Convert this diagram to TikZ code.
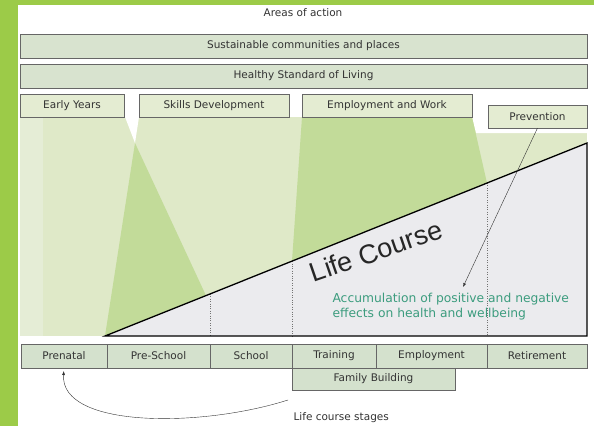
\documentclass[tikz,border=0pt]{standalone}
\usepackage{fontspec}
\setmainfont{DejaVu Sans}
\newfontfamily\lifefont{Liberation Sans}
\usetikzlibrary{positioning}
\usetikzlibrary{arrows.meta}
\definecolor{backgreen}{HTML}{9CCB48}
\definecolor{bandfill}{HTML}{D8E3CF}
\definecolor{areafill}{HTML}{E4ECD2}
\definecolor{stagefill}{HTML}{D4E1CD}
\definecolor{lightgreen}{HTML}{DFE9C8}
\definecolor{palegreen}{HTML}{E5EDD6}
\definecolor{darkgreen}{HTML}{C2DB99}
\definecolor{coursegrey}{HTML}{EBEBEE}
\definecolor{accutext}{HTML}{3C9C7E}
\tikzstyle{band}=[
  draw=black!60,
  fill=bandfill,
  minimum height=24pt,
  inner sep=0pt,
  outer sep=0pt,
  text=black!80,
  font=\fontsize{10.5}{12}\selectfont
]
\tikzstyle{areabox}=[band, fill=areafill, minimum height=23pt]
\tikzstyle{stagebox}=[band, fill=stagefill]
\tikzstyle{label}=[text=black!80, font=\fontsize{10.5}{12}\selectfont]

\begin{document}
\begin{tikzpicture}[x=1pt,y=-1pt,node distance=0pt]
    \useasboundingbox (0,0) rectangle (594,426);
    % background
    \fill[backgreen] (0,0) rectangle (594,426);
    \fill[white] (18,5) rectangle (594,426);
    % areas of action above the life course
    \fill[lightgreen] (20,117) rectangle (587,336);
    \fill[palegreen] (20,117) rectangle (43,336);
    \fill[white] (125,117) -- (139,117) -- (135,143) -- cycle;
    \fill[white] (472,117) -- (587,117) -- (587,133) -- (476,133) -- cycle;
    \fill[darkgreen] (135,143) -- (105,336) -- (206,295.6) -- cycle;
    \fill[darkgreen] (302,117) -- (472,117) -- (487,183.1) -- (292,261) -- cycle;
    % life course
    \fill[coursegrey] (105,336) -- (587,143) -- (587,336) -- cycle;
    \foreach \x in {210,292,487}
      \draw[dotted,black!55] (\x,{336-0.4004*(\x-105)}) -- (\x,336);
    \draw[black,line width=1.3pt] (105,336) -- (587,143) -- (587,336) -- cycle;
    \node[rotate=19,inner sep=0pt,text=black!85,font=\lifefont\fontsize{27}{27}\selectfont] (lifecourse) at (376,251) {Life Course};
    \node[anchor=west,align=left,text=accutext,font=\fontsize{12.3}{15}\selectfont] (accumulation) at (329,307) {Accumulation of positive and negative\\effects on health and wellbeing};
    % areas of action
    \node[label] (areas) at (303,13) {Areas of action};
    \node[band,minimum width=567pt] (sustainable) at (303.5,46) {Sustainable communities and places};
    \node[band,minimum width=567pt,below=6pt of sustainable] (healthy) {Healthy Standard of Living};
    \node[areabox,minimum width=104pt] (earlyyears) at (72,105.5) {Early Years};
    \node[areabox,minimum width=150pt] (skills) at (214,105.5) {Skills Development};
    \node[areabox,minimum width=170pt] (employwork) at (387,105.5) {Employment and Work};
    \node[areabox,minimum width=99pt] (prevention) at (537.5,116.5) {Prevention};
    \coordinate (acctip) at (463,287);
    \draw[-{Latex[length=4pt,width=3pt]},black!80] (prevention.south) -- (acctip);
    % life course stages
    \node[stagebox,minimum width=86pt] (prenatal) at (64,356) {Prenatal};
    \node[stagebox,minimum width=103pt,right=of prenatal] (preschool) {Pre-School};
    \node[stagebox,minimum width=82pt,right=of preschool] (school) {School};
    \node[stagebox,minimum width=84pt,right=of school] (training) {Training};
    \node[stagebox,minimum width=111pt,right=of training] (employment) {Employment};
    \node[stagebox,minimum width=100pt,right=of employment] (retirement) {Retirement};
    \node[stagebox,minimum width=163pt,minimum height=22pt,anchor=north west] (family) at (training.south west) {Family Building};
    \node[label,anchor=west] (stages) at (290,418) {Life course stages};
    \coordinate (stagestail) at (288,400);
    \draw[-{Latex[length=4pt,width=3pt]},black!80,shorten >=3pt] (stagestail) .. controls (200,428) and (60,428) .. (prenatal.south);
\end{tikzpicture}
\end{document}
